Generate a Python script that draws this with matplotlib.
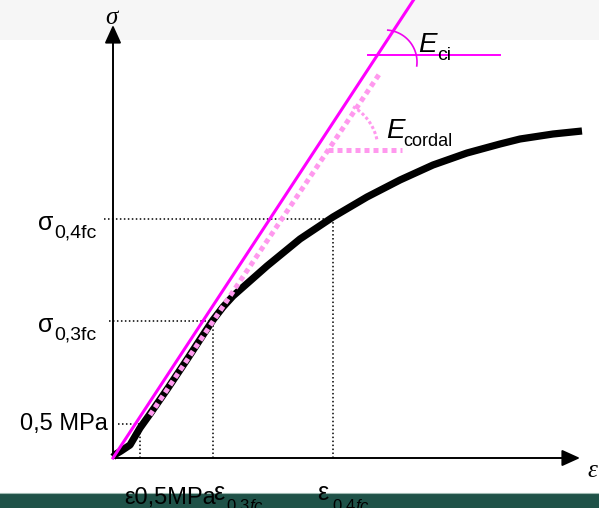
import numpy as np
import matplotlib
matplotlib.use("Agg")
import matplotlib.pyplot as plt

plt.rcParams['font.family'] = ['Liberation Sans', 'DejaVu Sans']
plt.rcParams['mathtext.fontset'] = 'custom'
plt.rcParams['mathtext.rm'] = 'Liberation Sans'
plt.rcParams['mathtext.it'] = 'Liberation Sans:italic'

# ---- data (schematic units: strain, stress) ----
curve_strain = [0.00, 0.03, 0.08, 0.17, 0.27, 0.37, 0.55, 0.75, 0.90, 1.00, 1.10, 1.20,
                1.54, 1.87, 2.20, 2.54, 2.87, 3.20, 3.54, 3.87, 4.07, 4.40, 4.69]
curve_stress = [0.1, 0.4, 0.7, 1.3, 3.0, 4.4, 7.0, 10.0, 12.3, 13.8, 15.1, 16.2,
                19.2, 21.9, 24.1, 26.1, 27.8, 29.3, 30.5, 31.4, 31.9, 32.4, 32.7]

eci_slope = 15.24            # tangent modulus line (stress per strain unit)
eci_strain_end = 3.01

chord_strain = [0.37, 2.67]
chord_stress = [4.3, 38.5]

eci_ref_stress = 40.3
eci_ref_strain = [2.55, 3.87]
cordal_ref_stress = 30.8
cordal_ref_strain = [2.15, 2.89]

eps_05, sig_05 = 0.27, 3.4
eps_03, sig_03 = 1.00, 13.7
eps_04, sig_04 = 2.20, 23.9

# pixel scale helpers (px per unit)
SX, SY = 100.0, 10.0

fig = plt.figure(figsize=(5.99, 5.08), dpi=100)
ax = fig.add_axes([0, 0, 1, 1])
ax.set_xlim(-1.13, 4.86)
ax.set_ylim(-5.0, 45.8)
ax.axis('off')

# background pieces
ax.axhspan(41.8, 45.8, color='#f6f6f6', zorder=0, lw=0)
ax.axhspan(-5.0, -3.5, color='#1f5248', zorder=0.5, lw=0)
ax.axhline(-3.45, color='#9fbab2', lw=0.8, zorder=0.6)

# helper dotted lines
dot = dict(color='black', lw=1.1, linestyle=(0, (1, 1.6)), zorder=2)
ax.plot([0.05, eps_05], [sig_05, sig_05], **dot)
ax.plot([eps_05, eps_05], [0, sig_05], **dot)
ax.plot([-0.04, eps_03], [sig_03, sig_03], **dot)
ax.plot([eps_03, eps_03], [0, sig_03], **dot)
ax.plot([-0.09, eps_04], [sig_04, sig_04], **dot)
ax.plot([eps_04, eps_04], [0, sig_04], **dot)

# axes with arrows
arr = dict(arrowstyle='-|>,head_length=1.1,head_width=0.5', color='black', lw=1.4,
           mutation_scale=10, shrinkA=0, shrinkB=0)
ax.annotate('', xy=(0, 43.3), xytext=(0, 0), arrowprops=arr, zorder=3)
ax.annotate('', xy=(4.67, 0), xytext=(0, 0), arrowprops=arr, zorder=3)

# stress-strain curve
ax.plot(curve_strain, curve_stress, color='black', lw=5.2, solid_capstyle='butt',
        solid_joinstyle='round', zorder=4)

# tangent line E_ci
ax.plot([0, eci_strain_end], [0, eci_slope * eci_strain_end], color='#ff00ff', lw=2.2, zorder=5)
ax.plot(eci_ref_strain, [eci_ref_stress, eci_ref_stress], color='#ff00ff', lw=1.4, zorder=5)

# chord line E_cordal
pink = '#ff99ee'
ax.plot(chord_strain, chord_stress, color=pink, lw=3.6, linestyle=(0, (1, 0.8)),
        solid_capstyle='butt', dash_capstyle='butt', zorder=6)
ax.plot(cordal_ref_strain, [cordal_ref_stress, cordal_ref_stress], color=pink, lw=3.6,
        linestyle=(0, (1, 0.8)), dash_capstyle='butt', zorder=6)

# angle arcs
t = np.radians(np.linspace(85, -7, 60))
ax.plot(2.72 + 32 * np.cos(t) / SX, 39.6 + 32 * np.sin(t) / SY, color='#ee00ee', lw=1.2, zorder=6)
t2 = np.radians(np.linspace(60, 11, 40))
ax.plot(2.15 + 50 * np.cos(t2) / SX, cordal_ref_stress + 50 * np.sin(t2) / SY, color=pink,
        lw=2.2, linestyle=(0, (1, 0.8)), zorder=6)

# texts
ax.text(-0.05, sig_05, '0,5 MPa', fontsize=17, ha='right', va='center', zorder=7)
ax.text(-0.75, 22.8, 'σ', fontsize=18, ha='left', va='baseline', zorder=7)
ax.text(-0.59, 22.0, '0,4fc', fontsize=14, ha='left', va='baseline', zorder=7)
ax.text(-0.75, 12.6, 'σ', fontsize=18, ha='left', va='baseline', zorder=7)
ax.text(-0.59, 11.8, '0,3fc', fontsize=14, ha='left', va='baseline', zorder=7)

ax.text(0.11, -4.6, 'ε0,5MPa', fontsize=17, ha='left', va='baseline', zorder=7)
ax.text(1.00, -4.2, 'ε', fontsize=18, ha='left', va='baseline', zorder=6.9)
ax.text(1.13, -5.3, r'0,3$\mathit{fc}$', fontsize=12, ha='left', va='baseline', zorder=7)
ax.text(2.04, -4.2, 'ε', fontsize=18, ha='left', va='baseline', zorder=7)
ax.text(2.19, -5.3, r'0,4$\mathit{fc}$', fontsize=12, ha='left', va='baseline', zorder=7)

ax.text(3.05, 40.6, 'E', fontsize=20, style='italic', ha='left', va='baseline', zorder=7)
ax.text(3.24, 39.8, 'ci', fontsize=14, ha='left', va='baseline', zorder=7)
ax.text(2.73, 32.0, 'E', fontsize=20, style='italic', ha='left', va='baseline', zorder=7)
ax.text(2.90, 31.2, 'cordal', fontsize=13, ha='left', va='baseline', zorder=7)

ax.text(-0.08, 43.4, 'σ', fontsize=18, style='italic', family=['Liberation Serif', 'DejaVu Serif'],
        ha='left', va='baseline', zorder=7)
ax.text(4.74, -1.9, 'ε', fontsize=18, style='italic', family=['Liberation Serif', 'DejaVu Serif'],
        ha='left', va='baseline', zorder=7)

fig.savefig('out.png', dpi=100)
